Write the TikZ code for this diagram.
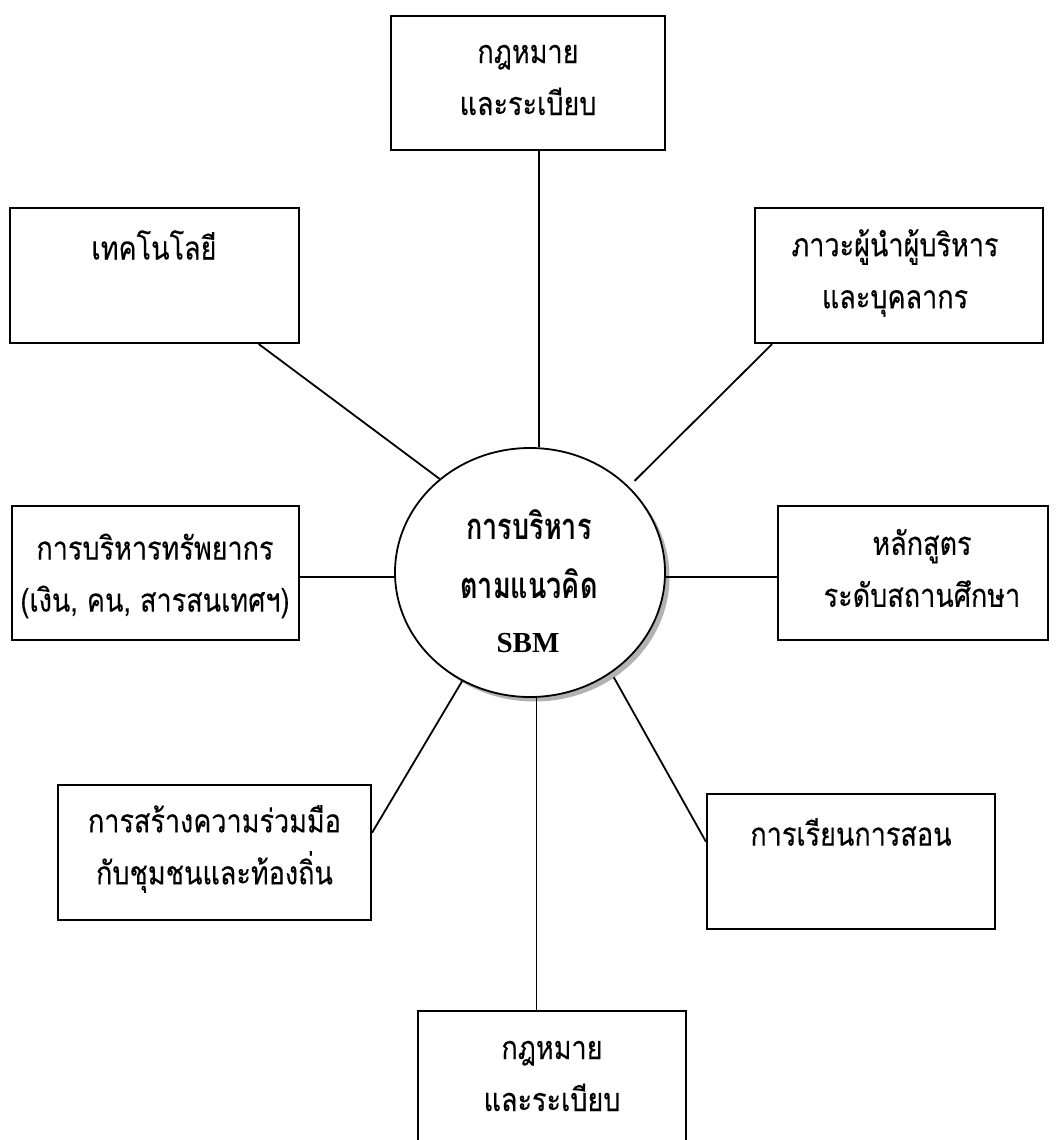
\documentclass[tikz,border=0pt]{standalone}
\usepackage{fontspec}
\usepackage{graphicx}
\usetikzlibrary{shapes.geometric,calc}
\newfontfamily\thaifont[Script=Thai,FakeBold=0.25]{Loma}
\newfontfamily\thaibold[Script=Thai]{Loma Bold}
\newfontfamily\sbmfont{Liberation Serif}
% taller Thai lettering
\newcommand{\tl}[1]{\scalebox{1}[1.2]{#1}}
\newcommand{\tc}[1]{\scalebox{1}[1.35]{#1}}
\begin{document}
\begin{tikzpicture}[x=1pt, y=-1pt,
  box/.style={draw=black, line width=2.1pt, inner sep=0pt, fill=white},
  link/.style={draw=black, line width=1.8pt},
  lbl/.style={font=\thaifont\fontsize{27}{52}\selectfont, align=center, inner sep=0pt},
  hub/.style={ellipse, draw=black, line width=1.8pt, inner sep=0pt,
    minimum width=270pt, minimum height=249pt}]
\useasboundingbox (0,0) rectangle (1056,1140);

% outer boxes
\node[box, minimum width=274pt, minimum height=134pt] (law1) at (528,83) {};
\node[box, minimum width=289pt, minimum height=135pt] (tech) at (154.5,275.5) {};
\node[box, minimum width=288pt, minimum height=135pt] (lead) at (899,275.5) {};
\node[box, minimum width=287pt, minimum height=134pt] (res) at (155.5,573) {};
\node[box, minimum width=270pt, minimum height=134pt] (cur) at (913,573) {};
\node[box, minimum width=313pt, minimum height=135pt] (com) at (214.5,852.5) {};
\node[box, minimum width=288pt, minimum height=135pt] (teach) at (851,861.5) {};
\node[box, minimum width=268pt, minimum height=131pt] (law2) at (552,1076.5) {};

% box labels
\node[lbl] (law1t) at (528,80) {\tl{กฎหมาย}\\\tl{และระเบียบ}};
\node[lbl] (techt) at (154,245) {\tl{เทคโนโลยี}};
\node[lbl] (leadt) at (895,273) {\tl{ภาวะผู้นำผู้บริหาร}\\\tl{และบุคลากร}};
\node[lbl] (rest) at (155,576) {\tl{การบริหารทรัพยากร}\\\tl{(เงิน, คน, สารสนเทศฯ)}};
\node[lbl] (curt) at (922,568) {\tl{หลักสูตร}\\\tl{ระดับสถานศึกษา}};
\node[lbl] (comt) at (214.5,849) {\tl{การสร้างความร่วมมือ}\\\tl{กับชุมชนและท้องถิ่น}};
\node[lbl] (teacht) at (851,832) {\tl{การเรียนการสอน}};
\node[lbl] (law2t) at (552,1076) {\tl{กฎหมาย}\\\tl{และระเบียบ}};

% central hub with its shadow
\node[hub, draw=none, fill=gray!60] (hubshadow) at (534.5,577) {};
\node[hub, fill=white] (c) at (530,572.5) {};
\node[font=\thaibold\fontsize{27}{59}\selectfont, align=center, inner sep=0pt]
  (ct) at (529,554) {\tc{การบริหาร}\\\tc{ตามแนวคิด}};
\node[font=\sbmfont\bfseries\fontsize{29}{30}\selectfont, inner sep=0pt] (sbm) at (528,643) {SBM};

% spokes
\draw[link] (c.86.3) -- (c.86.3 |- law1.south);
\draw[link] (c.134.5) -- ($(tech.south west)!0.858!(tech.south east)$);
\draw[link, shorten <=8pt] (c.41) -- ($(lead.south west)!0.0625!(lead.south east)$);
\draw[link] (c.182) -- (c.182 -| res.east);
\draw[link] (c.-2) -- (c.-2 -| cur.west);
\draw[link] (c.238.5) -- ($(com.north east)!0.356!(com.south east)$);
\draw[link, shorten <=5pt] (c.309) -- ($(teach.north west)!0.356!(teach.south west)$);
\draw[link] (c.273.9) -- (c.273.9 |- law2.north);
\end{tikzpicture}
\end{document}
